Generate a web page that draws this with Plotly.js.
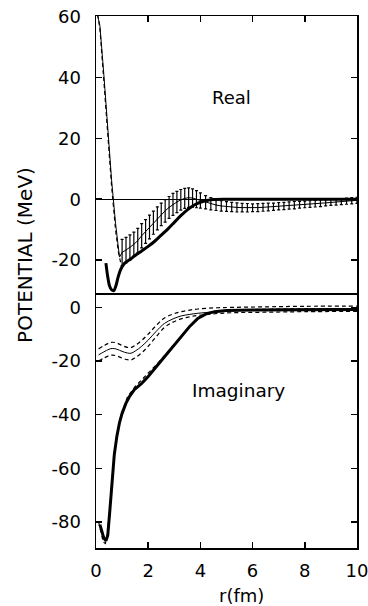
<!DOCTYPE html>
<html>
<head>
<meta charset="utf-8">
<script src="https://cdn.plot.ly/plotly-3.0.1.min.js"></script>
<style>html,body{margin:0;padding:0;background:#fff}#chart{width:368px;height:606px}</style>
</head>
<body>
<div id="chart"></div>
<script>
// ---- Real part (top panel) ----
const rSteep = [0.02, 0.15, 0.3, 0.45, 0.6, 0.75, 0.9];
const vSteep = [62, 57, 41, 23, 6, -8, -19];
const rBand = [1.0, 1.15, 1.3, 1.45, 1.6, 1.75, 1.9, 2.05, 2.2, 2.35, 2.5, 2.65, 2.8, 2.95, 3.1, 3.25, 3.4, 3.55, 3.7, 3.85, 4.0, 4.2, 4.4, 4.6, 4.8, 5.0, 5.2, 5.4, 5.6, 5.8, 6.0, 6.2, 6.4, 6.6, 6.8, 7.0, 7.2, 7.4, 7.6, 7.8, 8.0, 8.2, 8.4, 8.6, 8.8, 9.0, 9.2, 9.4, 9.6, 9.8, 10];
const vBand = [-17.5, -16.7, -15.8, -14.8, -13.6, -12, -10.6, -9.1, -7.7, -6.3, -5, -3.8, -2.7, -1.7, -0.9, -0.2, 0.3, 0.5, 0.4, 0, -0.4, -1.0, -1.5, -1.9, -2.2, -2.4, -2.55, -2.7, -2.75, -2.8, -2.8, -2.75, -2.65, -2.55, -2.45, -2.3, -2.2, -2.05, -1.95, -1.8, -1.7, -1.6, -1.45, -1.35, -1.2, -1.05, -0.95, -0.8, -0.65, -0.5, -0.35];
const eBand = [4.3, 4.2, 4.1, 4, 4, 4, 3.9, 3.9, 3.8, 3.8, 3.7, 3.7, 3.6, 3.6, 3.5, 3.4, 3.3, 3.2, 3.0, 2.8, 2.5, 2.2, 2.0, 1.8, 1.7, 1.6, 1.5, 1.5, 1.4, 1.4, 1.3, 1.3, 1.3, 1.3, 1.2, 1.2, 1.2, 1.2, 1.2, 1.1, 1.1, 1.1, 1.1, 1.1, 1.0, 1.0, 1.0, 1.0, 1.0, 1.0, 1.0];
const rSteepDash = [0.02, 0.15, 0.3, 0.45, 0.6, 0.75, 0.85, 0.95];
const vSteepDash = [63, 56, 39, 21, 4, -10, -17, -21];
const rReThick = [0.38, 0.45, 0.52, 0.6, 0.68, 0.76, 0.85, 0.95, 1.1, 1.3, 1.5, 1.75, 2.0, 2.25, 2.5, 2.75, 3.0, 3.25, 3.5, 3.75, 4.0, 4.25, 4.5, 5, 6, 7, 8, 9, 10];
const vReThick = [-21, -25.5, -28.5, -29.8, -30, -28.5, -25.5, -23, -21, -19.8, -18.5, -17, -15.5, -13.8, -11.8, -9.8, -7.6, -5.4, -3.5, -2, -1, -0.4, -0.1, 0, 0, 0, 0, 0, 0];

// ---- Imaginary part (bottom panel) ----
const rImFit = [0.1, 0.3, 0.5, 0.64, 0.8, 1.0, 1.2, 1.34, 1.5, 1.75, 2.0, 2.3, 2.62, 2.95, 3.26, 3.6, 3.9, 4.5, 5.2, 6.5, 8, 10];
const vImMid = [-17.7, -16.6, -15.6, -15.3, -15.6, -16.4, -17, -17.1, -16.3, -14.5, -12.2, -9, -6, -4.3, -3.2, -2.6, -2.2, -1.7, -1.3, -0.8, -0.6, -0.4];
const vImUp = [-15.5, -14.3, -13.3, -13, -13.3, -14.2, -14.9, -15, -14.2, -12.3, -10, -6.8, -4, -2.5, -1.6, -1, -0.6, -0.2, 0, 0.2, 0.4, 0.5];
const vImLo = [-20, -18.9, -18, -17.8, -18.1, -18.9, -19.5, -19.6, -18.8, -16.9, -14.5, -11, -7.5, -5.5, -4.3, -3.5, -3.0, -2.4, -2.0, -1.8, -1.6, -1.5];
const rImThick = [0.15, 0.22, 0.3, 0.38, 0.45, 0.52, 0.6, 0.7, 0.8, 0.9, 1.0, 1.15, 1.3, 1.47, 1.75, 2.0, 2.3, 2.62, 2.95, 3.26, 3.6, 3.9, 4.2, 4.54, 5.0, 6.0, 7.0, 8.0, 9.0, 10];
const vImThick = [-81, -83.5, -86, -87, -85, -77, -66, -55, -48, -43, -39.5, -35.7, -33, -30.7, -28.3, -25.8, -22.2, -18.4, -14.5, -10.9, -7, -4.1, -2.5, -1.6, -1.2, -1, -0.9, -0.8, -0.8, -0.8];
const rImDash = [0.1, 0.2, 0.28, 0.36, 0.44, 0.52, 0.6, 0.7, 0.85, 1.0, 1.2, 1.5, 1.8, 2.1, 2.4, 2.8, 3.2, 3.6, 4.0, 4.5, 5, 6, 8, 10];
const vImDash = [-80, -84, -87.5, -88, -84, -76, -65, -54, -45, -39, -33.5, -29.5, -26.5, -23.5, -20.5, -16, -11.5, -7, -3.5, -1.8, -1.2, -0.8, -0.5, -0.4];

// ---- Ticks ----
const xTicks = [0, 2, 4, 6, 8, 10];
const xTickText = ['0', '2', '4', '6', '8', '10'];
const yReTicks = [60, 40, 20, 0, -20];
const yReTickText = ['60', '40', '20', '0', '-20'];
const yImTicks = [0, -20, -40, -60, -80];
const yImTickText = ['0', '-20', '-40', '-60', '-80'];

const K = 'black';
const FONT = 'DejaVu Sans';

const traces = [
  {x: rSteep.concat(rBand), y: vSteep.concat(vBand), xaxis: 'x2', yaxis: 'y2', mode: 'lines', line: {color: K, width: 1}},
  {x: rBand, y: vBand, xaxis: 'x2', yaxis: 'y2', mode: 'markers', marker: {size: 1, color: K},
   error_y: {type: 'data', array: eBand, visible: true, color: K, thickness: 1.2, width: 1.5}},
  {x: rSteepDash, y: vSteepDash, xaxis: 'x2', yaxis: 'y2', mode: 'lines', line: {color: K, width: 1.2, dash: '4px,3px'}},
  {x: rReThick, y: vReThick, xaxis: 'x2', yaxis: 'y2', mode: 'lines', line: {color: K, width: 3, shape: 'spline'}},

  {x: rImFit, y: vImMid, xaxis: 'x', yaxis: 'y', mode: 'lines', line: {color: K, width: 1, shape: 'spline'}},
  {x: rImFit, y: vImUp, xaxis: 'x', yaxis: 'y', mode: 'lines', line: {color: K, width: 1.2, dash: '4px,3px', shape: 'spline'}},
  {x: rImFit, y: vImLo, xaxis: 'x', yaxis: 'y', mode: 'lines', line: {color: K, width: 1.2, dash: '4px,3px', shape: 'spline'}},
  {x: rImThick, y: vImThick, xaxis: 'x', yaxis: 'y', mode: 'lines', line: {color: K, width: 3}},
  {x: rImDash, y: vImDash, xaxis: 'x', yaxis: 'y', mode: 'lines', line: {color: K, width: 1.2, dash: '4px,3px'}}
];

const tickFont = {family: FONT, size: 18, color: K};
const common = {showgrid: false, showline: true, linecolor: K, linewidth: 1.5,
  ticks: 'inside', ticklen: 6, tickwidth: 1.5, tickcolor: K, tickfont: tickFont, ticklabeloverflow: 'allow'};

const layout = {
  width: 368, height: 606,
  margin: {l: 96, r: 11, t: 16, b: 58, pad: 0},
  paper_bgcolor: 'white', plot_bgcolor: 'white',
  showlegend: false,
  xaxis: Object.assign({}, common, {domain: [0, 1], range: [0, 10.001], anchor: 'y', tickvals: xTicks, ticktext: xTickText, mirror: true, zeroline: false, ticklabelstandoff: 6}),
  xaxis2: Object.assign({}, common, {domain: [0, 1], range: [0, 10.001], anchor: 'y2', side: 'top', tickvals: xTicks, showticklabels: false, mirror: false, zeroline: false}),
  yaxis: Object.assign({}, common, {domain: [0, 0.4765], range: [-89.7, 4.8], anchor: 'x', tickvals: yImTicks, ticktext: yImTickText, mirror: 'ticks', zeroline: false, ticklabelstandoff: 10}),
  yaxis2: Object.assign({}, common, {domain: [0.4765, 1], range: [-31.3, 60.2], anchor: 'x2', tickvals: yReTicks, ticktext: yReTickText, mirror: 'ticks', zeroline: true, zerolinecolor: K, zerolinewidth: 1.2, ticklabelstandoff: 10}),
  annotations: [
    {text: 'Real', xref: 'x2', yref: 'y2', x: 5.2, y: 33.5, showarrow: false, font: {family: FONT, size: 18, color: K}},
    {text: 'Imaginary', xref: 'x', yref: 'y', x: 5.45, y: -30.8, showarrow: false, font: {family: FONT, size: 18.5, color: K}},
    {text: 'POTENTIAL (MeV)', xref: 'paper', yref: 'paper', x: -0.272, y: 0.551, textangle: -90, showarrow: false, xanchor: 'center', yanchor: 'middle', font: {family: FONT, size: 20, color: K}},
    {text: 'r(fm)', xref: 'paper', yref: 'paper', x: 0.556, y: -0.0902, showarrow: false, xanchor: 'center', yanchor: 'middle', font: {family: FONT, size: 18, color: K}}
  ]
};

Plotly.newPlot('chart', traces, layout, {displayModeBar: false, staticPlot: true});
</script>
</body>
</html>
